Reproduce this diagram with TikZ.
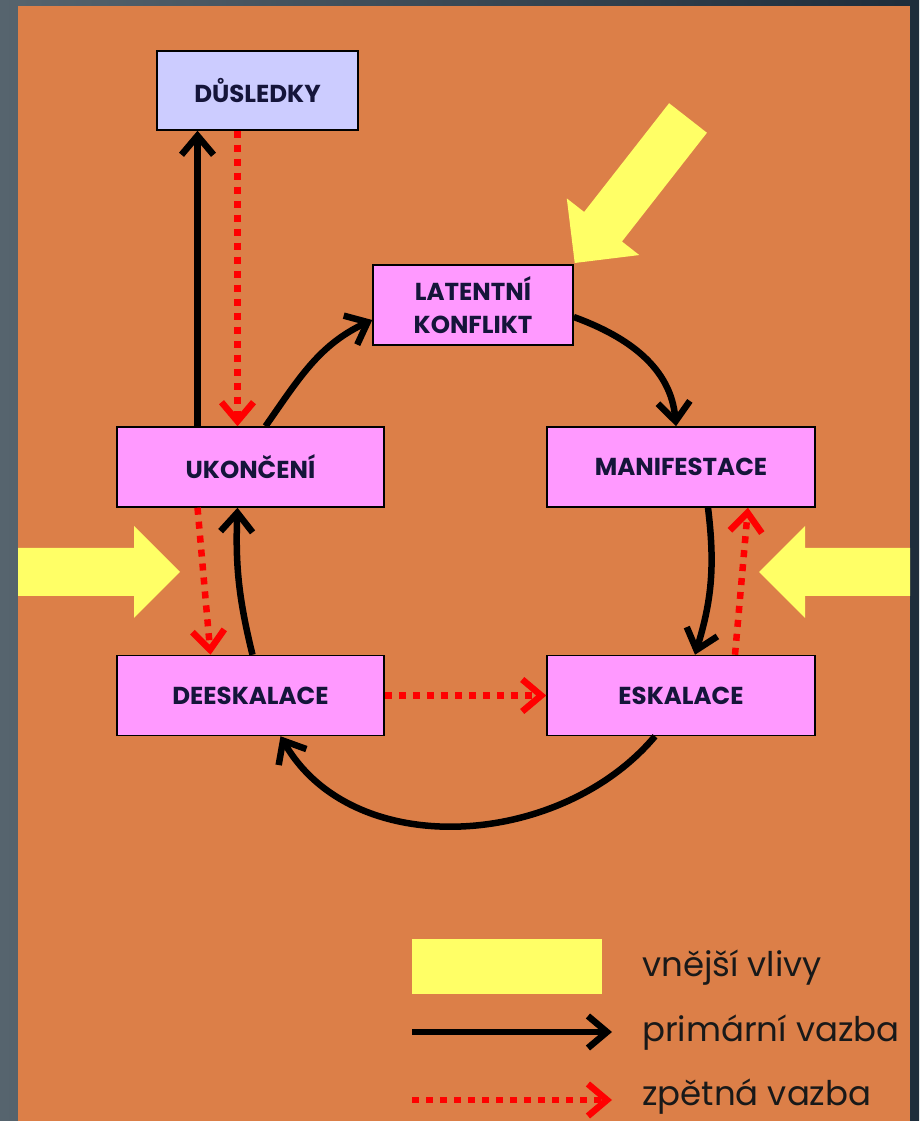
\documentclass[tikz,border=0pt]{standalone}
\usepackage{fontspec}
\setmainfont{Poppins}
\usetikzlibrary{arrows.meta}

\definecolor{okraj}{HTML}{56646E}
\definecolor{okrajtmavy}{HTML}{1E2D3B}
\definecolor{pozadi}{HTML}{DC7F48}
\definecolor{ruzova}{HTML}{FF99FF}
\definecolor{levandule}{HTML}{CCCCFF}
\definecolor{zluta}{HTML}{FFFF66}
\definecolor{popis}{HTML}{15153A}

\tikzset{
  faze/.style={draw=black, line width=1.5pt, fill=ruzova, minimum width=267pt,
    minimum height=80pt, inner sep=0pt, text=popis,
    font=\bfseries\fontsize{24.5}{33}\selectfont},
  legenda/.style={inner sep=0pt, text=black!90, font=\fontsize{34}{36}\selectfont},
  primarni/.style={line width=6.5pt, -{Straight Barb[length=19pt,width=32pt]}},
  zpetna/.style={red, line width=6.5pt, dash pattern=on 7pt off 7pt,
    -{Straight Barb[length=19pt,width=32pt]}},
  vliv/.style={fill=zluta, draw=none}
}

% yellow block arrow: tail, angle, length
\newcommand{\vlivarrow}[3]{%
  \begin{scope}[shift={#1}, rotate=#2]
    \fill[vliv] (0,-24) -- (#3-46,-24) -- (#3-46,-46) -- (#3,0)
      -- (#3-46,46) -- (#3-46,24) -- (0,24) -- cycle;
  \end{scope}}

\begin{document}
\begin{tikzpicture}[x=1pt, y=1pt]
 \useasboundingbox (0,0) rectangle (919,1121);
 \shade[left color=okraj, right color=okrajtmavy] (0,0) rectangle (919,1121);
 \fill[pozadi] (18,0) rectangle (910,1115);

 % vnejsi vlivy
 \vlivarrow{(18,549)}{0}{162}
 \vlivarrow{(910,549)}{180}{151}
 \vlivarrow{(688,1003)}{232}{184}

 \node[faze, fill=levandule, minimum width=201pt, minimum height=79pt] (dusledky) at (257.5,1030.5) {DŮSLEDKY};
 \node[faze, minimum width=200pt, align=center] (latent) at (473,816) {LATENTNÍ\\KONFLIKT};
 \node[faze] (ukonceni) at (250.5,654) {UKONČENÍ};
 \node[faze, minimum width=268pt] (manif) at (681,654) {MANIFESTACE};
 \node[faze] (deesk) at (250.5,425.5) {DEESKALACE};
 \node[faze, minimum width=268pt] (eskal) at (681,425.5) {ESKALACE};

 \draw[primarni] ([xshift=-53pt]ukonceni.north) -- ([xshift=-60pt]dusledky.south);
 \draw[zpetna] ([xshift=-20pt]dusledky.south) -- ([xshift=-13pt]ukonceni.north);
 \draw[primarni] ([xshift=15pt]ukonceni.north) to[out=55,in=205] ([yshift=-15pt]latent.west);
 \draw[primarni] ([yshift=-12pt]latent.east) to[out=-20,in=95] ([xshift=-5pt]manif.north);
 \draw[primarni] ([xshift=27pt]manif.south) to[bend left=12] ([xshift=14pt]eskal.north);
 \draw[zpetna] ([xshift=54pt]eskal.north) -- ([xshift=67pt]manif.south);
 \draw[zpetna] ([xshift=-53pt]ukonceni.south) -- ([xshift=-40pt]deesk.north);
 \draw[primarni] ([xshift=2pt]deesk.north) to[bend left=8] ([xshift=-13pt]ukonceni.south);
 \draw[zpetna] (deesk.east) -- (eskal.west);
 \draw[primarni] ([xshift=-26pt]eskal.south) to[out=-130,in=-60] ([xshift=30pt]deesk.south);

 % legenda
 \node[vliv, minimum width=190pt, minimum height=55pt, inner sep=0pt] (legvliv) at (507,154.5) {};
 \node[legenda, anchor=base west] (txtvliv) at (642,144) {vnější vlivy};
 \coordinate (lp1) at (412,89);
 \coordinate (lp2) at (612,89);
 \draw[primarni] (lp1) -- (lp2);
 \node[legenda, anchor=base west] (txtprim) at (642,79) {primární vazba};
 \coordinate (lz1) at (412,21);
 \coordinate (lz2) at (612,21);
 \draw[zpetna] (lz1) -- (lz2);
 \node[legenda, anchor=base west] (txtzpet) at (642,16) {zpětná vazba};
\end{tikzpicture}
\end{document}
